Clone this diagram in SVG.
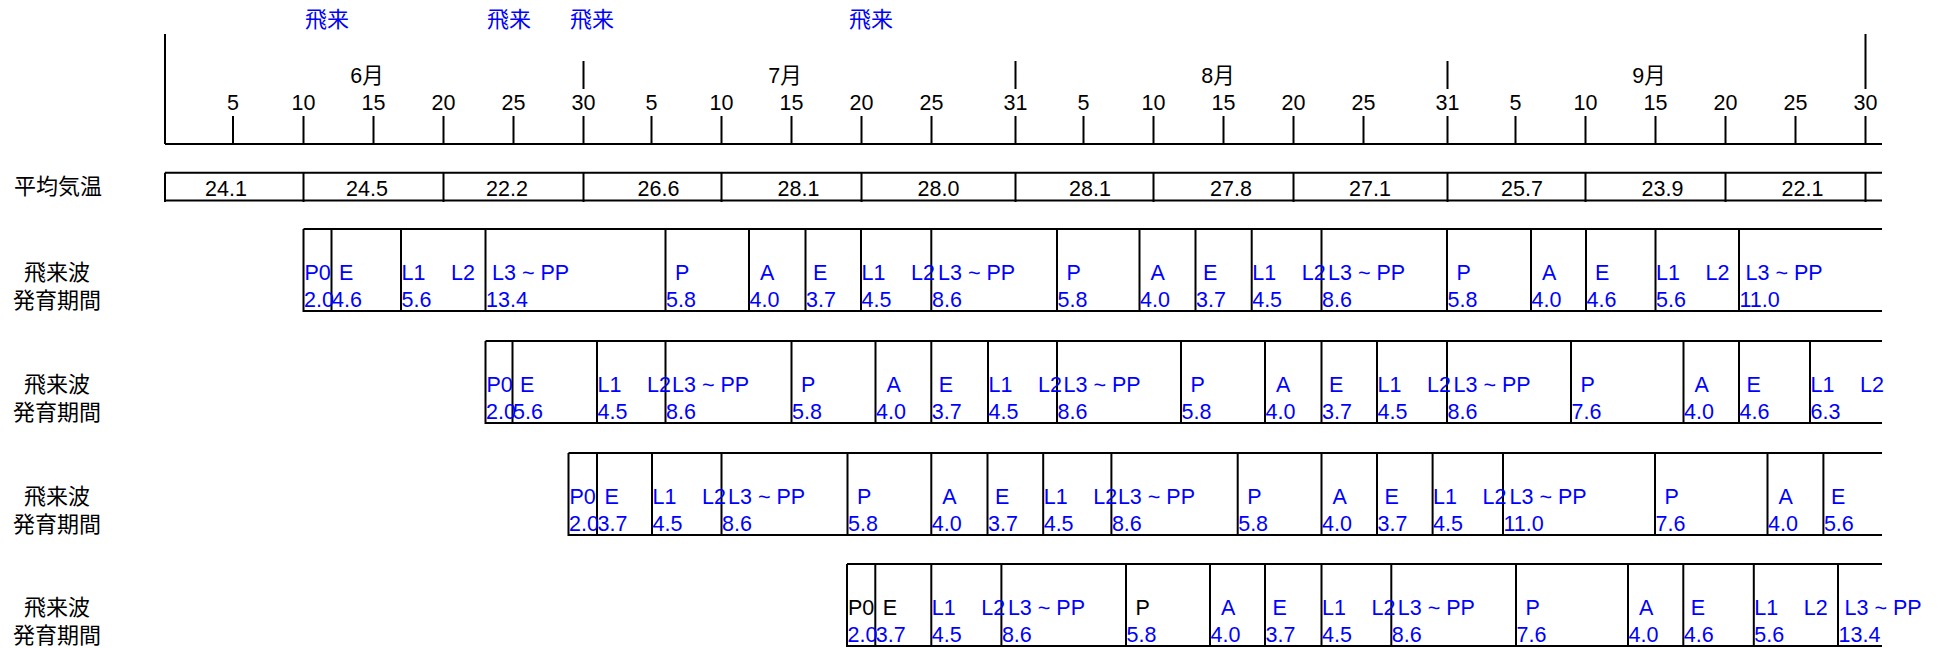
<svg xmlns="http://www.w3.org/2000/svg" width="1941" height="648" viewBox="0 0 1941 648">
<style>
text{font-family:"Liberation Sans","Noto Sans CJK JP",sans-serif;font-size:21.5px;fill:#000}
text.b,.b text{fill:#0000ff}
.cjk{font-size:22px}
.mid{text-anchor:middle}
.ln{stroke:#000;stroke-width:2;fill:none}
</style>
<rect width="1941" height="648" fill="#fff"/>
<g id="arrivals" class="mid">
<text class="b cjk" x="327" y="27">飛来</text>
<text class="b cjk" x="509" y="27">飛来</text>
<text class="b cjk" x="592" y="27">飛来</text>
<text class="b cjk" x="871" y="27">飛来</text>
</g>
<g id="axis">
<path class="ln" d="M165 34V144M1865.5 34V89M165 144H1882M583.5 61V89M1015.5 61V89M1447.5 61V89
M233 116V144M303.5 116V144M373.5 116V144M443.5 116V144M513.5 116V144M583.5 116V144
M651.5 116V144M721.5 116V144M791.5 116V144M861.5 116V144M931.5 116V144M1015.5 116V144
M1083.5 116V144M1153.5 116V144M1223.5 116V144M1293.5 116V144M1363.5 116V144M1447.5 116V144
M1515.5 116V144M1585.5 116V144M1655.5 116V144M1725.5 116V144M1795.5 116V144M1865.5 116V144"/>
<g class="mid">
<text x="367" y="83">6月</text><text x="785" y="83">7月</text><text x="1218" y="83">8月</text><text x="1649" y="83">9月</text>
<text x="233" y="110">5</text><text x="303.5" y="110">10</text><text x="373.5" y="110">15</text><text x="443.5" y="110">20</text><text x="513.5" y="110">25</text><text x="583.5" y="110">30</text>
<text x="651.5" y="110">5</text><text x="721.5" y="110">10</text><text x="791.5" y="110">15</text><text x="861.5" y="110">20</text><text x="931.5" y="110">25</text><text x="1015.5" y="110">31</text>
<text x="1083.5" y="110">5</text><text x="1153.5" y="110">10</text><text x="1223.5" y="110">15</text><text x="1293.5" y="110">20</text><text x="1363.5" y="110">25</text><text x="1447.5" y="110">31</text>
<text x="1515.5" y="110">5</text><text x="1585.5" y="110">10</text><text x="1655.5" y="110">15</text><text x="1725.5" y="110">20</text><text x="1795.5" y="110">25</text><text x="1865.5" y="110">30</text>
</g>
</g>
<g id="temperature">
<text class="cjk" x="14" y="194">平均気温</text>
<path class="ln" d="M165 172.7H1882M165 200.5H1882M165 172.7V202M303.5 172.7V202M443.5 172.7V202M583.5 172.7V202M721.5 172.7V202M861.5 172.7V202M1015.5 172.7V202M1153.5 172.7V202M1293.5 172.7V202M1447.5 172.7V202M1585.5 172.7V202M1725.5 172.7V202M1865.5 172.7V202"/>
<g class="mid">
<text x="226" y="196">24.1</text><text x="367" y="196">24.5</text><text x="507" y="196">22.2</text><text x="658.5" y="196">26.6</text><text x="798.5" y="196">28.1</text><text x="938.5" y="196">28.0</text><text x="1090" y="196">28.1</text><text x="1231" y="196">27.8</text><text x="1370" y="196">27.1</text><text x="1522" y="196">25.7</text><text x="1662.5" y="196">23.9</text><text x="1802.5" y="196">22.1</text>
</g>
</g>
<g id="wave1">
<g class="mid"><text class="cjk" x="57" y="279.5">飛来波</text><text class="cjk" x="57" y="307.5">発育期間</text></g>
<path class="ln" d="M303.5 229H1882M303.5 311H1882M303.5 229V312M331.5 229V312M401 229V312M485.5 229V312M665.5 229V312M749 229V312M805.5 229V312M861 229V312M931.3 229V312M1057 229V312M1139.5 229V312M1195.5 229V312M1251.7 229V312M1321.5 229V312M1447 229V312M1531 229V312M1586 229V312M1655.5 229V312M1739 229V312"/>
<g class="b">
<text x="304.5" y="279.5">P0</text><text x="304" y="306.5">2.0</text>
<text x="339" y="279.5">E</text><text x="332" y="306.5">4.6</text>
<text x="401.5" y="279.5">L1</text><text x="451" y="279.5">L2</text><text x="401.5" y="306.5">5.6</text>
<text x="492" y="279.5">L3 ~ PP</text><text x="486" y="306.5">13.4</text>
<text x="675" y="279.5">P</text><text x="666" y="306.5">5.8</text>
<text x="760" y="279.5">A</text><text x="749.5" y="306.5">4.0</text>
<text x="813" y="279.5">E</text><text x="806" y="306.5">3.7</text>
<text x="861.5" y="279.5">L1</text><text x="911" y="279.5">L2</text><text x="861.5" y="306.5">4.5</text>
<text x="938" y="279.5">L3 ~ PP</text><text x="932" y="306.5">8.6</text>
<text x="1066.5" y="279.5">P</text><text x="1057.5" y="306.5">5.8</text>
<text x="1150.5" y="279.5">A</text><text x="1140" y="306.5">4.0</text>
<text x="1203" y="279.5">E</text><text x="1196" y="306.5">3.7</text>
<text x="1252.2" y="279.5">L1</text><text x="1301.7" y="279.5">L2</text><text x="1252.2" y="306.5">4.5</text>
<text x="1328" y="279.5">L3 ~ PP</text><text x="1322" y="306.5">8.6</text>
<text x="1456.5" y="279.5">P</text><text x="1447.5" y="306.5">5.8</text>
<text x="1542" y="279.5">A</text><text x="1531.5" y="306.5">4.0</text>
<text x="1595" y="279.5">E</text><text x="1586.5" y="306.5">4.6</text>
<text x="1656" y="279.5">L1</text><text x="1705.5" y="279.5">L2</text><text x="1656" y="306.5">5.6</text>
<text x="1745.5" y="279.5">L3 ~ PP</text><text x="1739.5" y="306.5">11.0</text>
</g>
</g>
<g id="wave2">
<g class="mid"><text class="cjk" x="57" y="391.5">飛来波</text><text class="cjk" x="57" y="419.5">発育期間</text></g>
<path class="ln" d="M485.5 341H1882M485.5 423H1882M485.5 341V424M512.5 341V424M597 341V424M665.5 341V424M791.5 341V424M875.5 341V424M931.3 341V424M988 341V424M1057 341V424M1181 341V424M1265 341V424M1321.5 341V424M1377 341V424M1447 341V424M1571 341V424M1683.5 341V424M1739 341V424M1810 341V424"/>
<g class="b">
<text x="486.5" y="391.5">P0</text><text x="486" y="418.5">2.0</text>
<text x="520" y="391.5">E</text><text x="513" y="418.5">5.6</text>
<text x="597.5" y="391.5">L1</text><text x="647" y="391.5">L2</text><text x="597.5" y="418.5">4.5</text>
<text x="672" y="391.5">L3 ~ PP</text><text x="666" y="418.5">8.6</text>
<text x="801" y="391.5">P</text><text x="792" y="418.5">5.8</text>
<text x="886.5" y="391.5">A</text><text x="876" y="418.5">4.0</text>
<text x="938.8" y="391.5">E</text><text x="931.8" y="418.5">3.7</text>
<text x="988.5" y="391.5">L1</text><text x="1038" y="391.5">L2</text><text x="988.5" y="418.5">4.5</text>
<text x="1063.5" y="391.5">L3 ~ PP</text><text x="1057.5" y="418.5">8.6</text>
<text x="1190.5" y="391.5">P</text><text x="1181.5" y="418.5">5.8</text>
<text x="1276" y="391.5">A</text><text x="1265.5" y="418.5">4.0</text>
<text x="1329" y="391.5">E</text><text x="1322" y="418.5">3.7</text>
<text x="1377.5" y="391.5">L1</text><text x="1427" y="391.5">L2</text><text x="1377.5" y="418.5">4.5</text>
<text x="1453.5" y="391.5">L3 ~ PP</text><text x="1447.5" y="418.5">8.6</text>
<text x="1580.5" y="391.5">P</text><text x="1571.5" y="418.5">7.6</text>
<text x="1694.5" y="391.5">A</text><text x="1684" y="418.5">4.0</text>
<text x="1746.5" y="391.5">E</text><text x="1739.5" y="418.5">4.6</text>
<text x="1810.5" y="391.5">L1</text><text x="1860" y="391.5">L2</text><text x="1810.5" y="418.5">6.3</text>
</g>
</g>
<g id="wave3">
<g class="mid"><text class="cjk" x="57" y="503.5">飛来波</text><text class="cjk" x="57" y="531.5">発育期間</text></g>
<path class="ln" d="M568.5 453H1882M568.5 535H1882M568.5 453V536M597 453V536M652 453V536M721.5 453V536M847.5 453V536M931.3 453V536M987.5 453V536M1043.2 453V536M1111.4 453V536M1237.7 453V536M1321.5 453V536M1377 453V536M1432.6 453V536M1503 453V536M1655 453V536M1767.5 453V536M1823.4 453V536"/>
<g class="b">
<text x="569.5" y="503.5">P0</text><text x="569" y="530.5">2.0</text>
<text x="604.5" y="503.5">E</text><text x="597.5" y="530.5">3.7</text>
<text x="652.5" y="503.5">L1</text><text x="702" y="503.5">L2</text><text x="652.5" y="530.5">4.5</text>
<text x="728" y="503.5">L3 ~ PP</text><text x="722" y="530.5">8.6</text>
<text x="857" y="503.5">P</text><text x="848" y="530.5">5.8</text>
<text x="942.3" y="503.5">A</text><text x="931.8" y="530.5">4.0</text>
<text x="995" y="503.5">E</text><text x="988" y="530.5">3.7</text>
<text x="1043.7" y="503.5">L1</text><text x="1093.2" y="503.5">L2</text><text x="1043.7" y="530.5">4.5</text>
<text x="1117.9" y="503.5">L3 ~ PP</text><text x="1111.9" y="530.5">8.6</text>
<text x="1247.2" y="503.5">P</text><text x="1238.2" y="530.5">5.8</text>
<text x="1332.5" y="503.5">A</text><text x="1322" y="530.5">4.0</text>
<text x="1384.5" y="503.5">E</text><text x="1377.5" y="530.5">3.7</text>
<text x="1433.1" y="503.5">L1</text><text x="1482.6" y="503.5">L2</text><text x="1433.1" y="530.5">4.5</text>
<text x="1509.5" y="503.5">L3 ~ PP</text><text x="1503.5" y="530.5">11.0</text>
<text x="1664.5" y="503.5">P</text><text x="1655.5" y="530.5">7.6</text>
<text x="1778.5" y="503.5">A</text><text x="1768" y="530.5">4.0</text>
<text x="1830.9" y="503.5">E</text><text x="1823.9" y="530.5">5.6</text>
</g>
</g>
<g id="wave4">
<g class="mid"><text class="cjk" x="57" y="614.5">飛来波</text><text class="cjk" x="57" y="642.5">発育期間</text></g>
<path class="ln" d="M847 564H1882M847 646H1882M847 564V647M875.3 564V647M931.3 564V647M1001.4 564V647M1126 564V647M1210 564V647M1265 564V647M1321.5 564V647M1391.3 564V647M1516 564V647M1628 564V647M1683.3 564V647M1753.8 564V647M1838 564V647"/>
<text x="848" y="614.5">P0</text><text class="b" x="847.5" y="641.5">2.0</text>
<text x="882.8" y="614.5">E</text><text class="b" x="875.8" y="641.5">3.7</text>
<g class="b">
<text x="931.8" y="614.5">L1</text><text x="981.3" y="614.5">L2</text><text x="931.8" y="641.5">4.5</text>
<text x="1007.9" y="614.5">L3 ~ PP</text><text x="1001.9" y="641.5">8.6</text>
</g>
<text x="1135.5" y="614.5">P</text><text class="b" x="1126.5" y="641.5">5.8</text>
<g class="b">
<text x="1221" y="614.5">A</text><text x="1210.5" y="641.5">4.0</text>
<text x="1272.5" y="614.5">E</text><text x="1265.5" y="641.5">3.7</text>
<text x="1322" y="614.5">L1</text><text x="1371.5" y="614.5">L2</text><text x="1322" y="641.5">4.5</text>
<text x="1397.8" y="614.5">L3 ~ PP</text><text x="1391.8" y="641.5">8.6</text>
<text x="1525.5" y="614.5">P</text><text x="1516.5" y="641.5">7.6</text>
<text x="1639" y="614.5">A</text><text x="1628.5" y="641.5">4.0</text>
<text x="1690.8" y="614.5">E</text><text x="1683.8" y="641.5">4.6</text>
<text x="1754.3" y="614.5">L1</text><text x="1803.8" y="614.5">L2</text><text x="1754.3" y="641.5">5.6</text>
<text x="1844.5" y="614.5">L3 ~ PP</text><text x="1838.5" y="641.5">13.4</text>
</g>
</g>
</svg>
